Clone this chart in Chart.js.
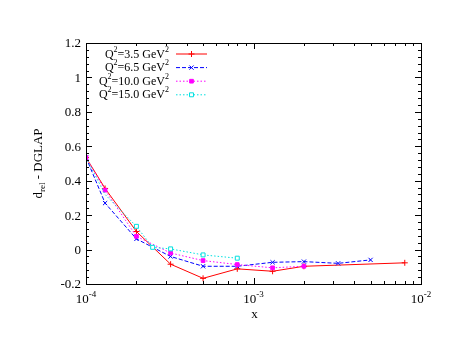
<!DOCTYPE html>
<html lang="en">
<head>
<meta charset="UTF-8">
<title>d_rel - DGLAP</title>
<script src="https://cdn.jsdelivr.net/npm/chart.js"></script>
<style>
    html, body { margin: 0; padding: 0; background: #fff; }
    #chart { display: block; }
</style>
</head>
<body>
<canvas id="chart" width="458" height="354"></canvas>
<script>
    // Q^2 values of the four curves
    const q2Labels = ['3.5', '6.5', '10.0', '15.0'];

    // Q^2 = 3.5 GeV^2
    const x35 = [1e-4, 1.3e-4, 2e-4, 3.2e-4, 5e-4, 8e-4, 1.3e-3, 2e-3, 8e-3];
    const d35 = [0.535, 0.355, 0.105, -0.085, -0.167, -0.112, -0.126, -0.097, -0.077];

    // Q^2 = 6.5 GeV^2
    const x65 = [1e-4, 1.3e-4, 2e-4, 3.2e-4, 5e-4, 8e-4, 1.3e-3, 2e-3, 3.2e-3, 5e-3];
    const d65 = [0.535, 0.27, 0.062, -0.04, -0.097, -0.097, -0.074, -0.07, -0.08, -0.06];

    // Q^2 = 10.0 GeV^2
    const x100 = [1e-4, 1.3e-4, 2e-4, 3.2e-4, 5e-4, 8e-4, 1.3e-3, 2e-3];
    const d100 = [0.535, 0.345, 0.077, -0.02, -0.064, -0.087, -0.106, -0.097];

    // Q^2 = 15.0 GeV^2
    const x150 = [1e-4, 1.3e-4, 2e-4, 2.5e-4, 3.2e-4, 5e-4, 8e-4];
    const d150 = [0.535, 0.32, 0.135, 0.013, 0.004, -0.031, -0.05];

    // axis ticks
    const yTicks = [-0.2, 0, 0.2, 0.4, 0.6, 0.8, 1, 1.2];
    const yTickLabels = ['-0.2', '0', '0.2', '0.4', '0.6', '0.8', '1', '1.2'];
    const xDecades = [-4, -3, -2];

    const serif = '"Liberation Serif", "DejaVu Serif", serif';

    function pts(xs, ys) {
        return xs.map((x, i) => ({ x: x, y: ys[i] }));
    }

    const styles = [
        { color: '#ff0000', dash: [], point: 'cross', fill: '#ff0000', r: 3 },
        { color: '#0000ff', dash: [4, 2], point: 'crossRot', fill: '#0000ff', r: 3 },
        { color: '#ff00ff', dash: [1.5, 2], point: 'rect', fill: '#ff00ff', r: 2.6 },
        { color: '#00e0e0', dash: [1.5, 2], point: 'rect', fill: '#ffffff', r: 2.8 }
    ];

    const allData = [pts(x35, d35), pts(x65, d65), pts(x100, d100), pts(x150, d150)];

    const datasets = allData.map((d, i) => ({
        label: 'Q2=' + q2Labels[i] + ' GeV2',
        data: d,
        showLine: true,
        borderColor: styles[i].color,
        borderWidth: 1,
        borderDash: styles[i].dash,
        pointStyle: styles[i].point,
        pointBackgroundColor: styles[i].fill,
        pointBorderColor: styles[i].color,
        pointBorderWidth: 1,
        pointRadius: i === 3 ? d.map((p, k) => k < 2 ? 0 : styles[i].r) : styles[i].r,
        order: 4 - i
    }));

    // text with a raised small part, like "Q^2"
    function drawSup(ctx, parts, x, y, align, size) {
        const big = size + 'px ' + serif, small = Math.round(size * 0.7) + 'px ' + serif;
        let w = 0;
        parts.forEach(p => { ctx.font = p.sup ? small : big; w += ctx.measureText(p.t).width; });
        let cx = align === 'right' ? x - w : (align === 'center' ? x - w / 2 : x);
        ctx.textAlign = 'left';
        ctx.textBaseline = 'alphabetic';
        parts.forEach(p => {
            ctx.font = p.sup ? small : big;
            ctx.fillText(p.t, cx, p.sup ? y - 6 : y);
            cx += ctx.measureText(p.t).width;
        });
    }

    const frame = {
        id: 'frame',
        afterDraw(chart) {
            const ctx = chart.ctx;
            const a = chart.chartArea;
            const xs = chart.scales.x, ys = chart.scales.y;
            ctx.save();
            ctx.strokeStyle = '#000';
            ctx.fillStyle = '#000';
            ctx.lineWidth = 1;
            ctx.setLineDash([]);
            ctx.strokeRect(Math.round(a.left) + 0.5, Math.round(a.top) + 0.5,
                Math.round(a.right - a.left), Math.round(a.bottom - a.top));

            // y ticks: major each 0.2, minor each 0.04
            ctx.beginPath();
            for (let k = 0; k <= 35; k++) {
                const v = -0.2 + k * 0.04;
                const py = Math.round(ys.getPixelForValue(v)) + 0.5;
                const len = k % 5 === 0 ? 6 : 3;
                ctx.moveTo(a.left, py); ctx.lineTo(a.left + len, py);
                ctx.moveTo(a.right, py); ctx.lineTo(a.right - len, py);
            }
            // x ticks: decades and 2..9 minors
            xDecades.forEach((e, i) => {
                for (let m = 1; m <= 9; m++) {
                    if (m > 1 && i === xDecades.length - 1) break;
                    const px = Math.round(xs.getPixelForValue(m * Math.pow(10, e))) + 0.5;
                    const len = m === 1 ? 6 : 3;
                    ctx.moveTo(px, a.bottom); ctx.lineTo(px, a.bottom - len);
                    ctx.moveTo(px, a.top); ctx.lineTo(px, a.top + len);
                }
            });
            ctx.stroke();

            // y tick labels
            ctx.font = '13px ' + serif;
            ctx.textAlign = 'right';
            ctx.textBaseline = 'middle';
            yTicks.forEach((v, i) => {
                ctx.fillText(yTickLabels[i], a.left - 5, ys.getPixelForValue(v) + 1);
            });

            // x tick labels 10^n
            xDecades.forEach(e => {
                const px = xs.getPixelForValue(Math.pow(10, e));
                drawSup(ctx, [{ t: '10' }, { t: String(e), sup: true }], px, a.bottom + 19, 'center', 13);
            });

            // axis titles
            ctx.font = '13px ' + serif;
            ctx.textAlign = 'center';
            ctx.textBaseline = 'alphabetic';
            ctx.fillText('x', (a.left + a.right) / 2 + 1, 318);

            ctx.save();
            ctx.translate(42, (a.top + a.bottom) / 2);
            ctx.rotate(-Math.PI / 2);
            ctx.font = '13px ' + serif;
            let w1 = ctx.measureText('d').width;
            ctx.font = '9px ' + serif;
            let w2 = ctx.measureText('rel').width;
            ctx.font = '13px ' + serif;
            let w3 = ctx.measureText(' - DGLAP').width;
            let sx = -(w1 + w2 + w3) / 2;
            ctx.textAlign = 'left';
            ctx.fillText('d', sx, 0);
            ctx.font = '9px ' + serif;
            ctx.fillText('rel', sx + w1, 3);
            ctx.font = '13px ' + serif;
            ctx.fillText(' - DGLAP', sx + w1 + w2, 0);
            ctx.restore();

            // key, top left
            q2Labels.forEach((q, i) => {
                const ly = 53.5 + i * 13.6;
                ctx.fillStyle = '#000';
                drawSup(ctx, [{ t: 'Q' }, { t: '2', sup: true }, { t: '=' + q + ' GeV' }, { t: '2', sup: true }],
                    169, ly + 4, 'right', 12);
                const st = styles[i];
                ctx.strokeStyle = st.color;
                ctx.setLineDash(st.dash);
                ctx.beginPath();
                ctx.moveTo(176, ly + 0.5); ctx.lineTo(207, ly + 0.5);
                ctx.stroke();
                ctx.setLineDash([]);
                ctx.fillStyle = st.fill;
                Chart.helpers.drawPoint(ctx, { pointStyle: st.point, radius: st.r, borderWidth: 1, rotation: 0 }, 191.5, ly + 0.5);
            });
            ctx.restore();
        }
    };

    new Chart(document.getElementById('chart'), {
        type: 'scatter',
        data: { datasets: datasets },
        options: {
            responsive: false,
            animation: false,
            layout: { padding: { top: 43, right: 37, left: 0, bottom: 0 } },
            plugins: { legend: { display: false }, tooltip: { enabled: false } },
            scales: {
                x: {
                    type: 'logarithmic',
                    min: 1e-4,
                    max: 1e-2,
                    grid: { display: false },
                    border: { display: false },
                    ticks: { display: false },
                    afterFit: s => { s.height = 70; }
                },
                y: {
                    min: -0.2,
                    max: 1.2,
                    grid: { display: false },
                    border: { display: false },
                    ticks: { display: false },
                    afterFit: s => { s.width = 86; }
                }
            }
        },
        plugins: [frame]
    });
</script>
</body>
</html>
